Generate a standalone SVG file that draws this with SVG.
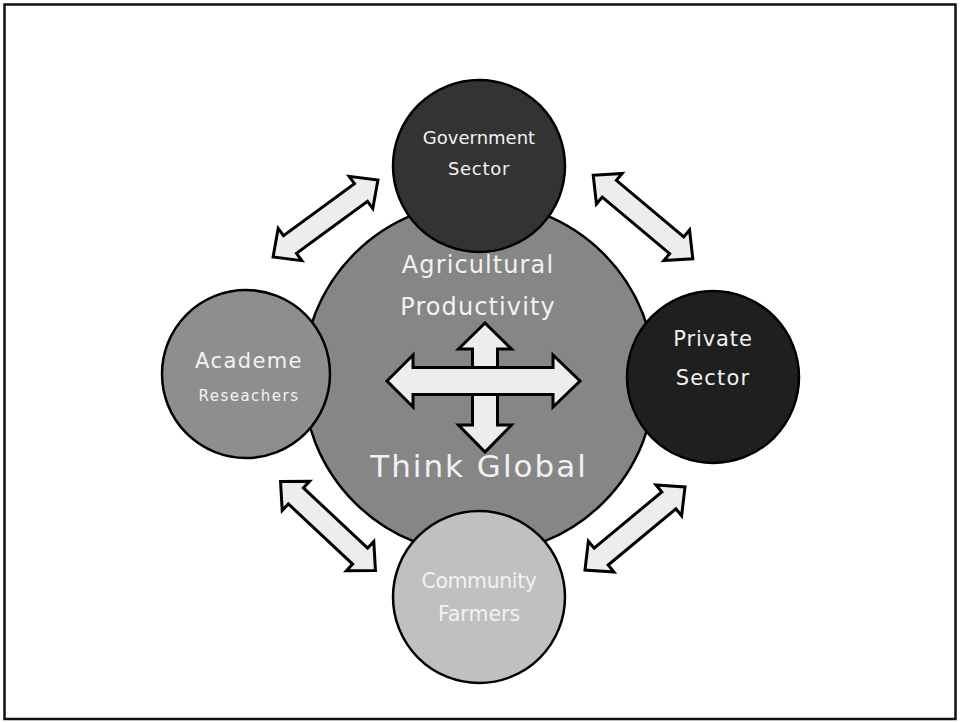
<svg xmlns="http://www.w3.org/2000/svg" width="960" height="722" viewBox="0 0 960 722">
<style>
.c{stroke:#000;stroke-width:2.5}
.t{font-family:"DejaVu Sans",Verdana,sans-serif;fill:#f2f2f2;text-anchor:middle}
.ar{fill:#ededed;stroke:#000;stroke-width:3;stroke-linejoin:miter}
</style>
<defs>
<path id="dbl" d="M-65,0 L-44,-20 L-44,-11 L44,-11 L44,-20 L65,0 L44,20 L44,11 L-44,11 L-44,20 Z"/>
</defs>
<rect x="4.5" y="4.5" width="951" height="714.5" fill="#fff" stroke="#111" stroke-width="2.5"/>
<g id="connectors">
<use href="#dbl" class="ar" transform="translate(325.5,218.5) rotate(-36.25)"/>
<use href="#dbl" class="ar" transform="translate(643,217) rotate(40)"/>
<use href="#dbl" class="ar" transform="translate(328,526) rotate(43.1)"/>
<use href="#dbl" class="ar" transform="translate(635,528.5) rotate(-39.7)"/>
</g>
<g id="center">
<circle class="c" cx="479" cy="378" r="176" fill="#868686"/>
<text class="t" x="478" y="272.7" font-size="24" letter-spacing="1.1">Agricultural</text>
<text class="t" x="478" y="315" font-size="24" letter-spacing="1.1">Productivity</text>
<path class="ar" d="M485,323 L511.5,349 L497.5,349 L497.5,425 L511.5,425 L485,452 L458.5,425 L472.5,425 L472.5,349 L458.5,349 Z"/>
<path class="ar" d="M387,381 L413,355 L413,367.5 L553,367.5 L553,355 L580,381 L553,407 L553,394.5 L413,394.5 L413,407 Z"/>
<text class="t" x="479" y="477" font-size="31" letter-spacing="2">Think Global</text>
</g>
<g id="government">
<circle class="c" cx="479" cy="166" r="86" fill="#333"/>
<text class="t" x="479" y="144" font-size="18">Government</text>
<text class="t" x="479" y="175" font-size="18" letter-spacing="0.7">Sector</text>
</g>
<g id="private">
<circle class="c" cx="713" cy="377" r="86" fill="#1f1f1f"/>
<text class="t" x="713" y="346" font-size="21" letter-spacing="0.9">Private</text>
<text class="t" x="713" y="384.7" font-size="21" letter-spacing="1.2">Sector</text>
</g>
<g id="academe">
<circle class="c" cx="246" cy="374" r="84" fill="#8e8e8e"/>
<text class="t" x="249" y="368" font-size="21" letter-spacing="1.4">Academe</text>
<text class="t" x="249" y="400.7" font-size="15" letter-spacing="1.5">Reseachers</text>
</g>
<g id="community">
<circle class="c" cx="479" cy="597" r="86" fill="#c0c0c0"/>
<text class="t" x="479" y="588" font-size="20.5" letter-spacing="-0.4">Community</text>
<text class="t" x="479" y="620.7" font-size="20.5">Farmers</text>
</g>
</svg>
